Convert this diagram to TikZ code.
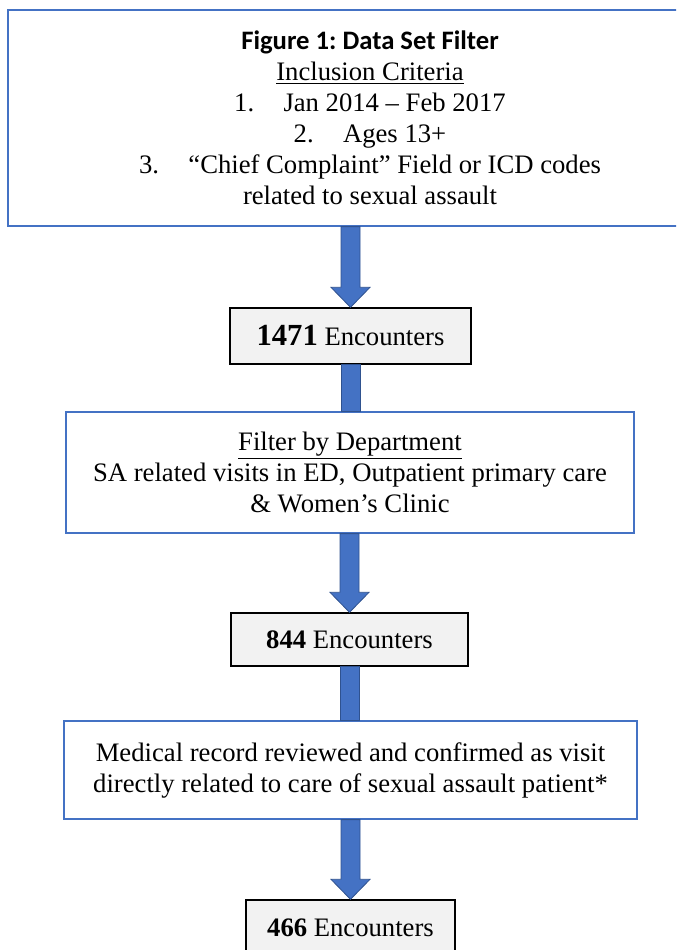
\documentclass[tikz,border=0pt]{standalone}
\usepackage{fontspec}
\setmainfont{Liberation Serif}
\newfontfamily\titlefont{Carlito}
\usepackage{tikz}
\usetikzlibrary{calc}
\frenchspacing

\definecolor{accentblue}{HTML}{4472C4}
\definecolor{arrowedge}{HTML}{2F528F}
\definecolor{boxgray}{HTML}{F2F2F2}

\tikzset{
	bluebox/.style={draw=accentblue, line width=0.9pt, fill=white, align=center,
		font=\fontsize{20}{23.25}\selectfont},
	graybox/.style={draw=black, line width=1pt, fill=boxgray, align=center,
		font=\fontsize{20}{23.25}\selectfont},
	blockarrow/.style={fill=accentblue, draw=arrowedge, line width=0.6pt}
}

% fat arrow with head, and plain shaft (head hidden by the next box)
\newcommand{\flowarrow}[2]{%
	\filldraw[blockarrow] ($(#1.south -| #2.north)+(-9.5,0)$)
	-- ($(#2.north)+(-9.5,-20)$) -- ++(-10,0) -- (#2.north)
	-- ++(19.5,-20) -- ++(-10,0) -- ($(#1.south -| #2.north)+(9.5,0)$) -- cycle;}
\newcommand{\flowshaft}[2]{%
	\filldraw[blockarrow] ($(#1.south)+(-9.5,0)$) rectangle ($(#2.north -| #1.south)+(9.5,0)$);}

\begin{document}
\begin{tikzpicture}[x=0.75pt,y=-0.75pt]
	\useasboundingbox (0,0) rectangle (676,950);
	\clip (0,0) rectangle (676,950);

	\node[bluebox, minimum width=543pt, minimum height=162pt] (criteria) at (370,118)
		{{\titlefont\bfseries Figure 1: Data Set Filter}\\
		\underline{Inclusion Criteria}\\
		1.\hspace{1.1em}Jan 2014 – Feb 2017\\
		2.\hspace{1.1em}Ages 13+\\
		3.\hspace{1.1em}“Chief Complaint” Field or ICD codes\\
		related to sexual assault};
	\node[graybox, minimum width=180.75pt, minimum height=42pt] (enc1471) at (350.5,336)
		{{\fontsize{23}{23.25}\selectfont\bfseries 1471} Encounters};
	\node[bluebox, minimum width=426pt, minimum height=90.75pt] (dept) at (350,472.5)
		{\underline{Filter by Department}\\
		SA related visits in ED, Outpatient primary care\\
		\& Women’s Clinic};
	\node[graybox, minimum width=177.75pt, minimum height=39.75pt] (enc844) at (349.5,639.5)
		{\textbf{844} Encounters};
	\node[bluebox, minimum width=429.75pt, minimum height=73.5pt] (review) at (350.5,770)
		{Medical record reviewed and confirmed as visit\\
		directly related to care of sexual assault patient*};
	\node[graybox, minimum width=156.75pt, minimum height=42pt] (enc466) at (350.5,928)
		{\textbf{466} Encounters};

	\flowarrow{criteria}{enc1471}
	\flowshaft{enc1471}{dept}
	\flowarrow{dept}{enc844}
	\flowshaft{enc844}{review}
	\flowarrow{review}{enc466}
\end{tikzpicture}
\end{document}
